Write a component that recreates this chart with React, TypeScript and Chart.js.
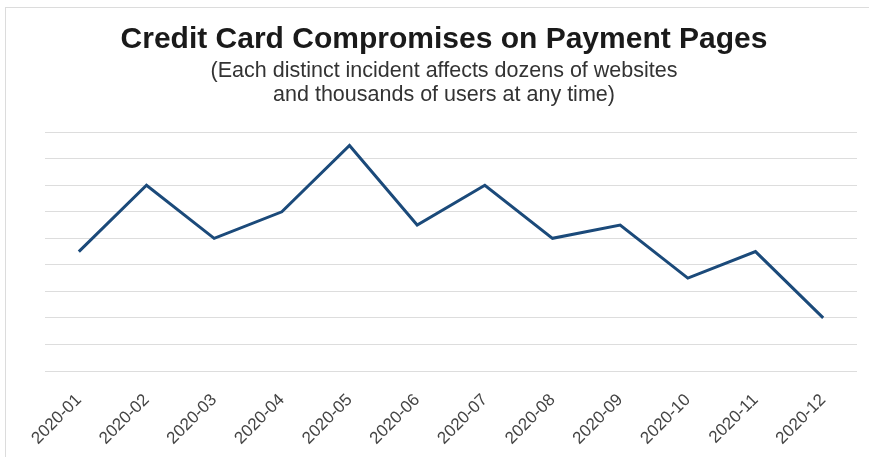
import React, { useEffect, useRef } from "react";
import { Chart, registerables } from "chart.js";

Chart.register(...registerables);

const months = [
  "2020-01", "2020-02", "2020-03", "2020-04", "2020-05", "2020-06",
  "2020-07", "2020-08", "2020-09", "2020-10", "2020-11", "2020-12",
];
const compromises = [4.5, 7, 5, 6, 8.5, 5.5, 7, 5, 5.5, 3.5, 4.5, 2];
const titleText = "Credit Card Compromises on Payment Pages";
const subtitleLines = [
  "(Each distinct incident affects dozens of websites",
  "and thousands of users at any time)",
];

const FONT = "'Liberation Sans', Arial, Helvetica, sans-serif";

export default function App() {
  const ref = useRef<HTMLCanvasElement | null>(null);

  useEffect(() => {
    if (!ref.current) return;
    const chart = new Chart(ref.current, {
      type: "line",
      data: {
        labels: months,
        datasets: [
          {
            data: compromises,
            borderColor: "#1b4a7a",
            borderWidth: 3,
            pointRadius: 0,
            tension: 0,
            fill: false,
          },
        ],
      },
      options: {
        animation: false,
        responsive: false,
        maintainAspectRatio: false,
        layout: { padding: { left: 31, right: 12, top: 0, bottom: 0 } },
        plugins: {
          legend: { display: false },
          tooltip: { enabled: false },
          title: {
            display: true,
            text: titleText,
            color: "#1a1a1a",
            font: { family: FONT, size: 30, weight: "bold", lineHeight: 1.1 },
            padding: { top: 23, bottom: 0 },
          },
          subtitle: {
            display: true,
            text: subtitleLines,
            color: "#333333",
            font: { family: FONT, size: 21.5, lineHeight: 1.12 },
            padding: { top: 3, bottom: 25 },
          },
        },
        scales: {
          x: {
            offset: true,
            grid: { display: false },
            border: { display: false },
            ticks: {
              color: "#444444",
              font: { family: FONT, size: 17 },
              maxRotation: 45,
              minRotation: 45,
              padding: 11,
              autoSkip: false,
            },
            afterFit: (s: any) => {
              s.height = 86;
            },
          },
          y: {
            min: 0,
            max: 9,
            ticks: { display: false, stepSize: 1 },
            border: { display: false },
            grid: { color: "#dddddd", lineWidth: 1, drawTicks: false },
            afterFit: (s: any) => {
              s.width = 14;
            },
          },
        },
      },
    });
    return () => chart.destroy();
  }, []);

  return (
    <div style={{ position: "fixed", left: 0, top: 0, width: 869, height: 457, background: "#fff" }}>
      <div
        style={{
          position: "absolute",
          left: 5,
          top: 7,
          width: 880,
          height: 470,
          border: "1px solid #dcdcdc",
        }}
      />
      <canvas
        ref={ref}
        width={869}
        height={457}
        style={{ position: "absolute", left: 0, top: 0, width: 869, height: 457 }}
      />
    </div>
  );
}
